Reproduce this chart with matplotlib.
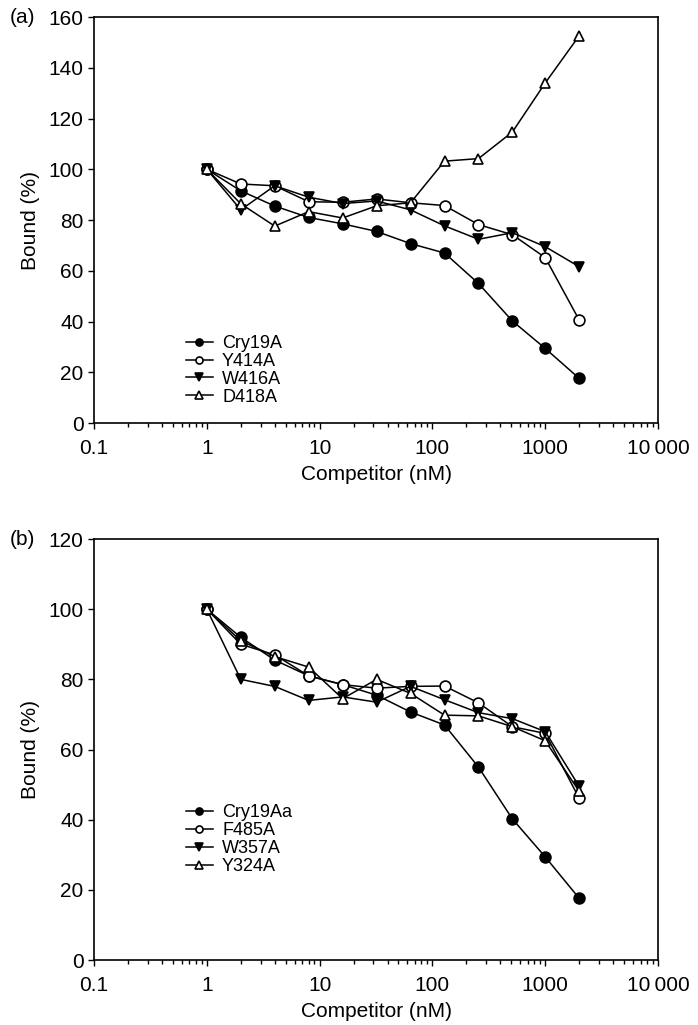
import numpy as np
import matplotlib
matplotlib.use('Agg')
from matplotlib import pyplot as plt
from matplotlib.ticker import LogLocator, NullFormatter, FixedLocator, FixedFormatter

plt.rcParams['font.family'] = ['Liberation Sans', 'DejaVu Sans']

# concentrations du compétiteur (nM)
conc = [1, 2, 4, 8, 16, 32, 64, 128, 256, 512, 1000, 2000]

# panneau (a)
cry19a = [100, 91.5, 85.5, 81, 78.5, 75.5, 70.7, 67, 55, 40.2, 29.4, 17.6]
y414a = [100, 94.2, 93.5, 87.2, 87, 88.3, 86.8, 85.7, 78.2, 74.2, 65.2, 40.6]
w416a = [100, 84, 93.5, 89, 86.5, 87.5, 84, 77.7, 72.4, 75, 69.5, 61.6]
d418a = [100, 86.4, 77.6, 83.3, 80.8, 85.6, 86.8, 103.2, 104.2, 114.7, 134, 152.6]

# panneau (b)
cry19aa = [100, 92, 85.5, 81, 78.5, 75.5, 70.7, 67, 55, 40.2, 29.4, 17.6]
f485a = [100, 90, 87, 81, 78.5, 77.5, 78, 78.1, 73.3, 66.5, 64.6, 46.1]
w357a = [100, 80, 78, 74, 75, 73.5, 78, 74.2, 70.5, 68.8, 65.1, 49.5]
y324a = [100, 91, 86.5, 83.5, 74.5, 80, 76, 69.8, 69.6, 66.5, 62.5, 48.1]

xticks = [0.1, 1, 10, 100, 1000, 10000]
xticklabels = ['0.1', '1', '10', '100', '1000', '10\u2009000']

fig = plt.figure(figsize=(6.98, 10.25), dpi=100)
ax1 = fig.add_axes([0.1347, 0.5873, 0.808, 0.3961])
ax2 = fig.add_axes([0.1347, 0.0634, 0.808, 0.4107])

def trace(ax, series, ymax, lab, leg_y):
    styles = [('o', 'k'), ('o', 'white'), ('v', 'k'), ('^', 'white')]
    for (y, nom), (m, fc) in zip(series, styles):
        ax.plot(conc, y, color='k', lw=1.1, marker=m, ms=7.8, mfc=fc, mec='k', mew=1.2, label=nom)
    ax.set_xscale('log')
    ax.set_xlim(0.1, 10000)
    ax.set_ylim(0, ymax)
    ax.set_yticks(np.arange(0, ymax + 1, 20))
    ax.xaxis.set_major_locator(FixedLocator(xticks))
    ax.xaxis.set_major_formatter(FixedFormatter(xticklabels))
    ax.xaxis.set_minor_locator(LogLocator(base=10, subs=np.arange(2, 10)))
    ax.xaxis.set_minor_formatter(NullFormatter())
    ax.tick_params(axis='both', which='major', direction='out', length=4.5, width=1, labelsize=15, top=False, right=False)
    ax.tick_params(axis='x', which='major', pad=7)
    ax.tick_params(axis='y', which='major', pad=3)
    ax.tick_params(axis='x', which='minor', direction='out', length=3, width=1, top=False)
    for s in ax.spines.values():
        s.set_linewidth(1.2)
    ax.set_xlabel('Competitor (nM)', fontsize=15, labelpad=5)
    ax.set_ylabel('Bound (%)', fontsize=15, labelpad=6)
    ax.legend(loc='upper left', bbox_to_anchor=(0.147, leg_y), frameon=False, fontsize=13,
              markerscale=0.65, handlelength=1.5, handletextpad=0.5, labelspacing=0.05, borderpad=0)
    ax.text(-0.149, 1.0, lab, transform=ax.transAxes, fontsize=15, ha='left', va='center')

trace(ax1, [(cry19a, 'Cry19A'), (y414a, 'Y414A'), (w416a, 'W416A'), (d418a, 'D418A')], 160, '(a)', 0.239)
trace(ax2, [(cry19aa, 'Cry19Aa'), (f485a, 'F485A'), (w357a, 'W357A'), (y324a, 'Y324A')], 120, '(b)', 0.391)

plt.savefig('out.png', dpi=100)
